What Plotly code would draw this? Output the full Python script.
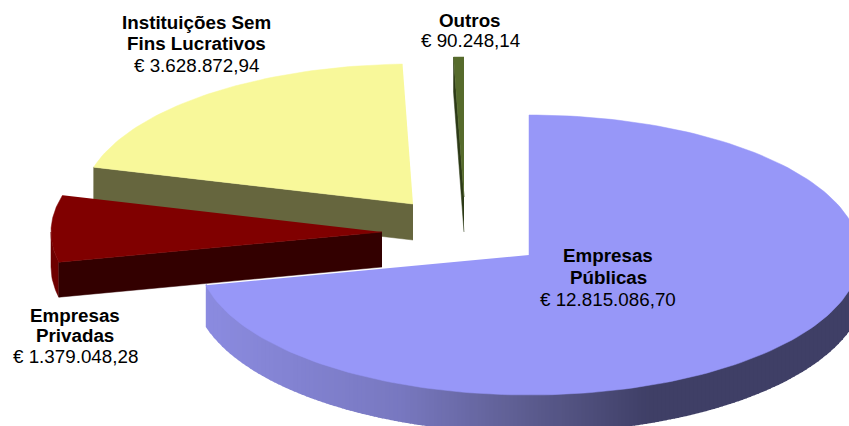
import math
import plotly.graph_objects as go

# ---- data ----
categories = ["Empresas Públicas", "Empresas Privadas", "Instituições Sem Fins Lucrativos", "Outros"]
values = [12815086.70, 1379048.28, 3628872.94, 90248.14]
value_labels = ["€ 12.815.086,70", "€ 1.379.048,28", "€ 3.628.872,94", "€ 90.248,14"]
label_lines = [["Empresas", "Públicas"], ["Empresas", "Privadas"], ["Instituições Sem", "Fins Lucrativos"], ["Outros"]]

# ---- style / projection (slice angles come from the values) ----
face_colors = ["#9797f8", "#800000", "#f8f89a", "#566b2c"]
cut_colors = [None, "#330000", "#66663e", "#2c3a16"]
RX, RY = 331, 140
RX_LOW, RY_LOW = 336, 146
apex = [(529, 255), (382, 232), (413, 204), (464, 197)]
depth = [32, 35, 36, 35]
label_xy = [(608, 255), (75, 315), (196.5, 22), (470, 20)]
label_spacing = [22, 20.5, 21.5, 20.5]
FS = 18.8
rim_stops = [(206, (139, 139, 224)), (400, (120, 120, 192)), (520, (94, 94, 146)),
             (650, (63, 63, 102)), (860, (63, 63, 102))]


def pt(c, deg, dz=0):
    a = math.radians(deg)
    return c[0] + RX * math.sin(a), c[1] - RY * math.cos(a) + dz


def arc(c, a0, a1, dz=0, n=60):
    return [pt(c, a0 + (a1 - a0) * i / n, dz) for i in range(n + 1)]


def poly(points, color, width=0.5):
    return go.Scatter(x=[p[0] for p in points], y=[p[1] for p in points], mode="lines",
                      fill="toself", fillcolor=color, line=dict(color=color, width=width),
                      hoverinfo="skip", showlegend=False)


def rim_color(x):
    for (x0, c0), (x1, c1) in zip(rim_stops, rim_stops[1:]):
        if x <= x1:
            t = (x - x0) / (x1 - x0)
            return "rgb(%d,%d,%d)" % tuple(round(a + (b - a) * t) for a, b in zip(c0, c1))
    return "rgb(%d,%d,%d)" % rim_stops[-1][1]


total = sum(values)
spans = []
start = 0.0
for v in values:
    spans.append((start, start + v / total * 360))
    start += v / total * 360

fig = go.Figure()

# Outros
a0, a1 = spans[3]
c, d = apex[3], depth[3]
fig.add_trace(poly([c, pt(c, a0), pt(c, a0, d), (c[0], c[1] + d)], cut_colors[3]))
fig.add_trace(poly([c] + arc(c, a0, a1, n=6), face_colors[3]))

# Instituições
a0, a1 = spans[2]
c, d = apex[2], depth[2]
fig.add_trace(poly([c, pt(c, a0), pt(c, a0, d), (c[0], c[1] + d)], cut_colors[2]))
fig.add_trace(poly([c] + arc(c, a0, a1), face_colors[2]))

# Empresas Privadas
a0, a1 = spans[1]
c, d = apex[1], depth[1]
fig.add_trace(poly(arc(c, a0, 270, n=12) + arc(c, 270, a0, d, n=12), "#6e0000"))
fig.add_trace(poly([c, pt(c, a0), pt(c, a0, d), (c[0], c[1] + d)], cut_colors[1]))
fig.add_trace(poly([c] + arc(c, a0, a1), face_colors[1]))

# Empresas Públicas: shaded rim as vertical strips, then the top face
a0, a1 = spans[0]
c, d = apex[0], depth[0]
left_x = pt(c, a1)[0]


def rim_y(x, rx, ry, cy):
    s = min(1.0, abs(x - c[0]) / rx)
    return cy + ry * math.sqrt(1 - s * s)


STEP = 4
x = left_x
while x < 860:
    x2 = x + STEP + 1  # overlap so no seams show between strips
    fig.add_trace(go.Scatter(
        x=[x, x2, x2, x],
        y=[rim_y(x, RX, RY, c[1]) - 2, rim_y(x2, RX, RY, c[1]) - 2,
           rim_y(x2, RX_LOW, RY_LOW, c[1] + d), rim_y(x, RX_LOW, RY_LOW, c[1] + d)],
        mode="lines", fill="toself", fillcolor=rim_color(x + STEP / 2), line=dict(width=0),
        hoverinfo="skip", showlegend=False))
    x += STEP
fig.add_trace(poly([c] + arc(c, a0, a1, n=180), face_colors[0]))

# Labels
for lines, val, (x, y), sp in zip(label_lines, value_labels, label_xy, label_spacing):
    for i, t in enumerate(lines):
        fig.add_annotation(x=x, y=y + i * sp, text="<b>%s</b>" % t, showarrow=False,
                           xanchor="center", yanchor="middle",
                           font=dict(family="Liberation Sans", size=FS, color="#000000"))
    fig.add_annotation(x=x, y=y + len(lines) * sp, text=val, showarrow=False,
                       xanchor="center", yanchor="middle",
                       font=dict(family="Liberation Sans", size=FS, color="#000000"))

fig.update_layout(width=849, height=426, margin=dict(l=0, r=0, t=0, b=0), autosize=False,
                  paper_bgcolor="white", plot_bgcolor="white", showlegend=False,
                  xaxis=dict(range=[0, 849], visible=False, fixedrange=True),
                  yaxis=dict(range=[426, 0], visible=False, fixedrange=True))
fig.write_html("out.html", config={"displayModeBar": False},
               post_script="document.body.style.margin='0';document.body.style.overflow='hidden';")
